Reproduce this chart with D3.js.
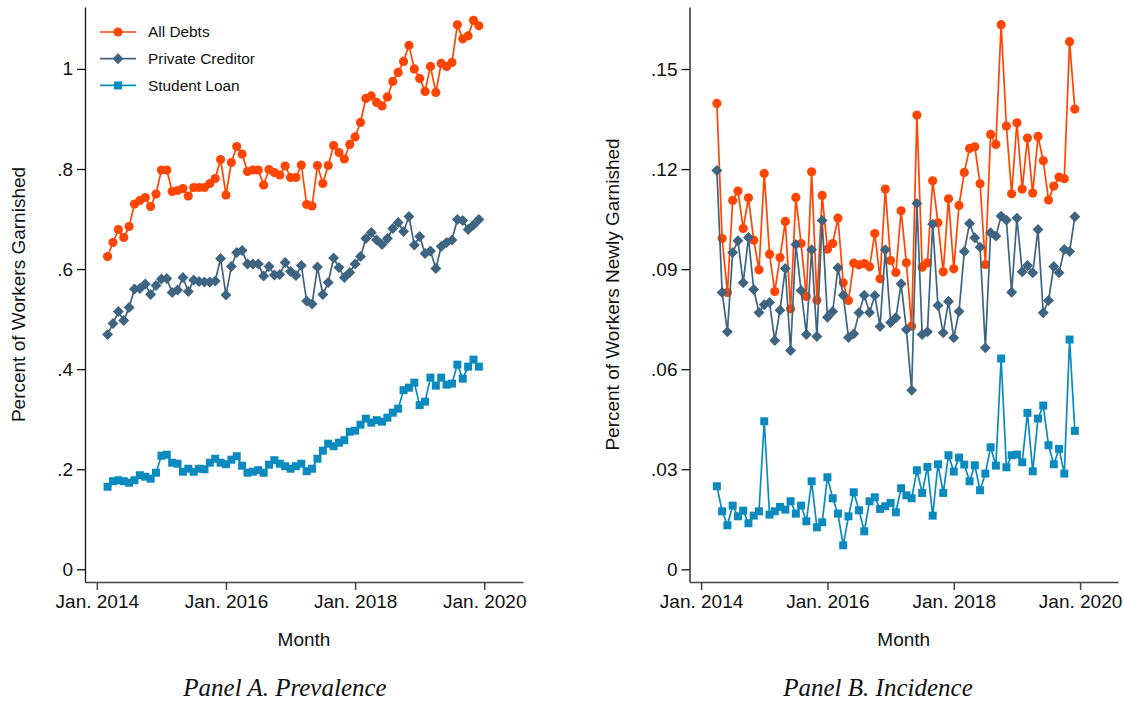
<!DOCTYPE html>
<html>
<head>
<meta charset="utf-8">
<script src="https://cdn.jsdelivr.net/npm/d3@7"></script>
<style>
  body { margin: 0; background: #fff; }
  svg { display: block; font-family: "Liberation Sans", Arial, sans-serif; }
  .caption { font-family: "Liberation Serif", "Times New Roman", serif; font-style: italic; }
</style>
</head>
<body>
<div id="chart"></div>
<script>
// months counted from Jan. 2014 (0 = Jan. 2014)
var prevStart = 2;   // Mar. 2014
var incStart = 3;    // Apr. 2014

var seriesNames = ["All Debts", "Private Creditor", "Student Loan"];
var xTickMonths = [0, 24, 48, 72];
var xTickLabels = ["Jan. 2014", "Jan. 2016", "Jan. 2018", "Jan. 2020"];
var prevTicks = [0, 0.2, 0.4, 0.6, 0.8, 1];
var incTicks = [0, 0.03, 0.06, 0.09, 0.12, 0.15];

var prevAll = [
  0.625, 0.653, 0.679, 0.663, 0.685, 0.730, 0.737, 0.743, 0.725, 0.750,
  0.798, 0.798, 0.755, 0.757, 0.761, 0.746, 0.763, 0.763, 0.763, 0.771,
  0.781, 0.819, 0.748, 0.813, 0.845, 0.830, 0.795, 0.798, 0.798, 0.768,
  0.799, 0.793, 0.788, 0.806, 0.783, 0.783, 0.808, 0.729, 0.726, 0.807,
  0.771, 0.807, 0.847, 0.833, 0.820, 0.849, 0.864, 0.893, 0.941, 0.946,
  0.933, 0.926, 0.944, 0.975, 0.993, 1.015, 1.047, 1.000, 0.981, 0.955,
  1.005, 0.953, 1.011, 1.005, 1.013, 1.088, 1.060, 1.066, 1.097, 1.086
];
var prevPrivate = [
  0.469, 0.491, 0.515, 0.497, 0.523, 0.560, 0.561, 0.570, 0.549, 0.567,
  0.580, 0.581, 0.553, 0.558, 0.583, 0.555, 0.578, 0.575, 0.574, 0.574,
  0.576, 0.621, 0.548, 0.605, 0.633, 0.637, 0.610, 0.610, 0.610, 0.586,
  0.605, 0.588, 0.589, 0.613, 0.595, 0.587, 0.607, 0.536, 0.530, 0.604,
  0.549, 0.573, 0.622, 0.603, 0.583, 0.593, 0.610, 0.625, 0.661, 0.673,
  0.658, 0.649, 0.661, 0.681, 0.693, 0.675, 0.705, 0.648, 0.665, 0.631,
  0.636, 0.601, 0.645, 0.653, 0.658, 0.699, 0.697, 0.679, 0.688, 0.699
];
var prevStudent = [
  0.165, 0.176, 0.178, 0.176, 0.173, 0.178, 0.188, 0.185, 0.181, 0.193,
  0.227, 0.229, 0.213, 0.211, 0.195, 0.201, 0.195, 0.201, 0.200, 0.213,
  0.221, 0.213, 0.210, 0.219, 0.226, 0.207, 0.193, 0.195, 0.198, 0.193,
  0.209, 0.218, 0.211, 0.206, 0.201, 0.206, 0.211, 0.196, 0.201, 0.221,
  0.237, 0.251, 0.246, 0.253, 0.258, 0.275, 0.277, 0.289, 0.301, 0.293,
  0.298, 0.295, 0.303, 0.313, 0.321, 0.358, 0.363, 0.373, 0.328, 0.335,
  0.383, 0.367, 0.383, 0.369, 0.371, 0.409, 0.381, 0.405, 0.419, 0.405
];

var incAll = [
  0.1397, 0.0992, 0.0830, 0.1106, 0.1134, 0.1022, 0.1114, 0.0987, 0.0898, 0.1187,
  0.0945, 0.0833, 0.0935, 0.1043, 0.0781, 0.1115, 0.0977, 0.0818, 0.1192, 0.0807,
  0.1121, 0.0960, 0.0977, 0.1053, 0.0859, 0.0806, 0.0918, 0.0913, 0.0917, 0.0907,
  0.1007, 0.0871, 0.1140, 0.0926, 0.0890, 0.1075, 0.0919, 0.0729, 0.1362, 0.0906,
  0.0919, 0.1165, 0.1039, 0.0892, 0.1111, 0.0901, 0.1091, 0.1190, 0.1262, 0.1267,
  0.1156, 0.0914, 0.1304, 0.1274, 0.1633, 0.1329, 0.1126, 0.1339, 0.1140, 0.1293,
  0.1128, 0.1298, 0.1225, 0.1107, 0.1149, 0.1176, 0.1171, 0.1582, 0.1380
];
var incPrivate = [
  0.1196, 0.0830, 0.0712, 0.0950, 0.0985, 0.0859, 0.0995, 0.0839, 0.0770, 0.0793,
  0.0800, 0.0686, 0.0777, 0.0902, 0.0656, 0.0974, 0.0836, 0.0704, 0.0958, 0.0698,
  0.1046, 0.0756, 0.0773, 0.0904, 0.0822, 0.0695, 0.0706, 0.0769, 0.0822, 0.0770,
  0.0821, 0.0728, 0.0958, 0.0740, 0.0754, 0.0856, 0.0719, 0.0537, 0.1097, 0.0704,
  0.0712, 0.1035, 0.0791, 0.0709, 0.0803, 0.0694, 0.0773, 0.0953, 0.1037, 0.0994,
  0.0966, 0.0664, 0.1009, 0.0999, 0.1059, 0.1047, 0.0831, 0.1053, 0.0892, 0.0911,
  0.0889, 0.1019, 0.0769, 0.0806, 0.0908, 0.0889, 0.0959, 0.0953, 0.1057
];
var incStudent = [
  0.0249, 0.0174, 0.0132, 0.0191, 0.0159, 0.0176, 0.0138, 0.0161, 0.0174, 0.0444,
  0.0164, 0.0174, 0.0187, 0.0179, 0.0204, 0.0167, 0.0191, 0.0144, 0.0264, 0.0126,
  0.0141, 0.0276, 0.0213, 0.0167, 0.0072, 0.0159, 0.0231, 0.0177, 0.0114, 0.0204,
  0.0216, 0.0181, 0.0189, 0.0199, 0.0171, 0.0243, 0.0222, 0.0213, 0.0297, 0.0229,
  0.0307, 0.0161, 0.0315, 0.0229, 0.0342, 0.0293, 0.0335, 0.0314, 0.0264, 0.0312,
  0.0237, 0.0287, 0.0366, 0.0311, 0.0632, 0.0306, 0.0342, 0.0344, 0.0321, 0.0469,
  0.0294, 0.0452, 0.0491, 0.0372, 0.0315, 0.0361, 0.0287, 0.0689, 0.0415
];

var colors = ["#ff4500", "#3e6482", "#0a8abf"];
var symbols = [d3.symbolCircle, d3.symbolSquare, d3.symbolSquare];
var symbolSizes = [66, 60, 64];
var symbolRotate = [0, 45, 0];

var svg = d3.select("#chart").append("svg")
    .attr("width", 1125)
    .attr("height", 704);

function tickFmt(d) {
    if (d === 0) return "0";
    return d3.format("~f")(d).replace(/^0/, "");
}

function drawPanel(p) {
    var x = d3.scaleLinear()
        .domain([-2.2, 79.2])
        .range([p.left, p.right]);
    var y = d3.scaleLinear()
        .domain(p.yDomain)
        .range([582, 7]);

    var g = svg.append("g");

    // axes
    var yAxis = g.append("g")
        .attr("transform", "translate(" + p.left + ",0)")
        .call(d3.axisLeft(y).tickValues(p.ticks).tickFormat(tickFmt)
            .tickSize(8).tickPadding(4).tickSizeOuter(0));
    var xAxis = g.append("g")
        .attr("transform", "translate(0,582)")
        .call(d3.axisBottom(x).tickValues(xTickMonths)
            .tickFormat(function(d, i) { return xTickLabels[i]; })
            .tickSize(8).tickPadding(5).tickSizeOuter(0));
    g.selectAll(".tick text")
        .style("font-size", "19px")
        .style("font-family", "'Liberation Sans', Arial, sans-serif")
        .attr("fill", "#111");
    yAxis.selectAll("path, line").attr("stroke", "#111").attr("stroke-width", 1.3);
    xAxis.selectAll("path, line").attr("stroke", "#444").attr("stroke-width", 1.5);

    // axis titles
    g.append("text")
        .attr("transform", "translate(" + p.yTitleX + ",294.5) rotate(-90)")
        .attr("text-anchor", "middle")
        .style("font-size", "19px")
        .attr("fill", "#111")
        .text(p.yTitle);
    g.append("text")
        .attr("x", (p.left + p.right) / 2)
        .attr("y", 646)
        .attr("text-anchor", "middle")
        .style("font-size", "19px")
        .attr("fill", "#111")
        .text("Month");
    g.append("text")
        .attr("class", "caption")
        .attr("x", p.captionX)
        .attr("y", 696)
        .attr("text-anchor", "middle")
        .style("font-size", "25px")
        .attr("fill", "#111")
        .text(p.caption);

    var line = d3.line()
        .x(function(d) { return x(d.m); })
        .y(function(d) { return y(d.v); });

    p.series.forEach(function(values, s) {
        var data = values.map(function(v, i) { return {m: p.start + i, v: v}; });
        g.append("path")
            .datum(data)
            .attr("fill", "none")
            .attr("stroke", colors[s])
            .attr("stroke-width", 1.7)
            .attr("stroke-linejoin", "round")
            .attr("d", line);
        g.selectAll(".pt" + s)
            .data(data)
            .enter()
            .append("path")
            .attr("class", "pt" + s)
            .attr("d", d3.symbol().type(symbols[s]).size(symbolSizes[s]))
            .attr("transform", function(d) {
                return "translate(" + x(d.m) + "," + y(d.v) + ") rotate(" + symbolRotate[s] + ")";
            })
            .attr("fill", colors[s]);
    });

    return g;
}

var gA = drawPanel({
    left: 85, right: 523,
    yDomain: [-0.0254, 1.1237],
    ticks: prevTicks,
    yTitle: "Percent of Workers Garnished",
    yTitleX: 25,
    caption: "Panel A. Prevalence",
    captionX: 285,
    start: prevStart,
    series: [prevAll, prevPrivate, prevStudent]
});

drawPanel({
    left: 689.5, right: 1118,
    yDomain: [-0.0038, 0.1686],
    ticks: incTicks,
    yTitle: "Percent of Workers Newly Garnished",
    yTitleX: 619,
    caption: "Panel B. Incidence",
    captionX: 878,
    start: incStart,
    series: [incAll, incPrivate, incStudent]
});

// legend (panel A)
var legend = gA.append("g");
seriesNames.forEach(function(name, s) {
    var ly = 32 + s * 26.7;
    legend.append("line")
        .attr("x1", 100).attr("x2", 136)
        .attr("y1", ly).attr("y2", ly)
        .attr("stroke", colors[s])
        .attr("stroke-width", 1.7);
    legend.append("path")
        .attr("d", d3.symbol().type(symbols[s]).size(symbolSizes[s]))
        .attr("transform", "translate(118," + ly + ") rotate(" + symbolRotate[s] + ")")
        .attr("fill", colors[s]);
    legend.append("text")
        .attr("x", 148)
        .attr("y", ly)
        .attr("dy", "0.35em")
        .style("font-size", "15.4px")
        .attr("fill", "#111")
        .text(name);
});
</script>
</body>
</html>
